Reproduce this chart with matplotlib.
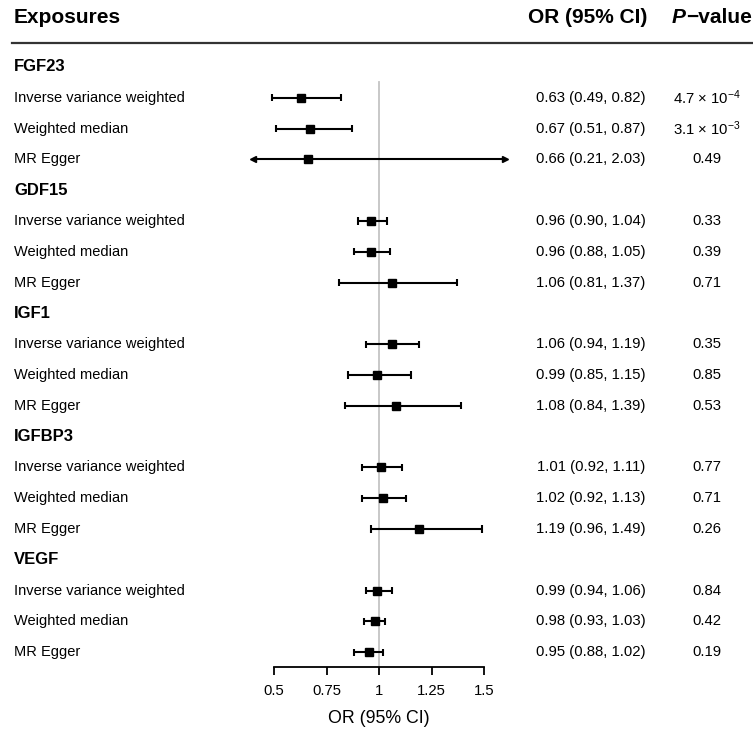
import numpy as np
import matplotlib
matplotlib.use("Agg")
import matplotlib.pyplot as plt
from matplotlib.transforms import blended_transform_factory
from matplotlib.lines import Line2D

plt.rcParams['font.family'] = ['Liberation Sans', 'DejaVu Sans']
plt.rcParams['mathtext.fontset'] = 'custom'
plt.rcParams['mathtext.rm'] = 'Liberation Sans'
plt.rcParams['mathtext.it'] = 'Liberation Sans:italic'
plt.rcParams['mathtext.bf'] = 'Liberation Sans:bold'

# ---------------- data ----------------
groups = ["FGF23", "GDF15", "IGF1", "IGFBP3", "VEGF"]
methods = ["Inverse variance weighted", "Weighted median", "MR Egger"]
or_vals = [[0.63, 0.67, 0.66],
           [0.96, 0.96, 1.06],
           [1.06, 0.99, 1.08],
           [1.01, 1.02, 1.19],
           [0.99, 0.98, 0.95]]
ci_low = [[0.49, 0.51, 0.21],
          [0.90, 0.88, 0.81],
          [0.94, 0.85, 0.84],
          [0.92, 0.92, 0.96],
          [0.94, 0.93, 0.88]]
ci_high = [[0.82, 0.87, 2.03],
           [1.04, 1.05, 1.37],
           [1.19, 1.15, 1.39],
           [1.11, 1.13, 1.49],
           [1.06, 1.03, 1.02]]
p_labels = [["4.7 × 10$^{-4}$", "3.1 × 10$^{-3}$", "0.49"],
            ["0.33", "0.39", "0.71"],
            ["0.35", "0.85", "0.53"],
            ["0.77", "0.71", "0.26"],
            ["0.84", "0.42", "0.19"]]
xticks = [0.5, 0.75, 1, 1.25, 1.5]
xtick_labels = ["0.5", "0.75", "1", "1.25", "1.5"]
clip_lo, clip_hi = 0.4, 1.6

# ---------------- layout ----------------
W, H = 753, 734
fig = plt.figure(figsize=(W / 100, H / 100), dpi=100)
ax = fig.add_axes([0, 0, 1, 1])
ax.patch.set_alpha(0)

px_per_unit = 210.0
x_at_half = 274.0
ax.set_xlim(0.5 - x_at_half / px_per_unit, 0.5 + (W - x_at_half) / px_per_unit)
row_pitch = 30.8
row0_px = 67.0
ax.set_ylim((H - row0_px) / row_pitch, -row0_px / row_pitch)

def prow(px):
    return (px - row0_px) / row_pitch

axis_y = prow(667)

tr = blended_transform_factory(fig.transFigure, ax.transData)
def fx(px):
    return px / W

txt_col = 'black'
row = 0
for g, grp in enumerate(groups):
    ax.text(fx(14), row, grp, transform=tr, ha='left', va='center',
            fontsize=12, fontweight='bold', color=txt_col)
    row += 1
    for m, meth in enumerate(methods):
        ax.text(fx(14), row, meth, transform=tr, ha='left', va='center',
                fontsize=10.5, color=txt_col)
        o, lo, hi = or_vals[g][m], ci_low[g][m], ci_high[g][m]
        ax.text(fx(591), row, f"{o:.2f} ({lo:.2f}, {hi:.2f})", transform=tr,
                ha='center', va='center', fontsize=10.7, color=txt_col)
        ax.text(fx(707), row, p_labels[g][m], transform=tr,
                ha='center', va='center', fontsize=10.7, color=txt_col)
        l = max(lo, clip_lo)
        h = min(hi, clip_hi)
        ax.plot([l, h], [row, row], color='black', lw=1.5, zorder=3,
                solid_capstyle='butt')
        for end, clipped, mk in ((l, lo < clip_lo, '<'), (h, hi > clip_hi, '>')):
            if clipped:
                ax.plot([end], [row], marker=mk, color='black', ms=5, zorder=4)
            else:
                ax.plot([end, end], [row - 0.12, row + 0.12], color='black',
                        lw=1.5, zorder=3, solid_capstyle='butt')
        ax.plot([o], [row], marker='s', color='black', ms=6, zorder=5)
        row += 1

# reference line
ax.plot([1, 1], [prow(82), axis_y], color='#c4c4c4', lw=1.3, zorder=1)

# headers
hy = prow(18)
ax.text(fx(14), hy, "Exposures", transform=tr, ha='left', va='center',
        fontsize=15, fontweight='bold', color=txt_col)
ax.text(fx(588), hy, "OR (95% CI)", transform=tr, ha='center', va='center',
        fontsize=15, fontweight='bold', color=txt_col)
pt = ax.text(fx(672), hy, "P", transform=tr, ha='left', va='center',
             fontsize=15, fontweight='bold', fontstyle='italic', color=txt_col)
ax.annotate("\u2212value", xy=(1, 0.5), xycoords=pt, ha='left', va='center',
            fontsize=15, fontweight='bold', color=txt_col)
fig.add_artist(Line2D([fx(12), 1], [1 - 43 / H, 1 - 43 / H], color='#333333', lw=1.6))

# x axis
for s in ['top', 'right', 'left']:
    ax.spines[s].set_visible(False)
ax.spines['bottom'].set_position(('data', axis_y))
ax.spines['bottom'].set_bounds(xticks[0], xticks[-1])
ax.spines['bottom'].set_linewidth(1.3)
ax.set_xticks(xticks)
ax.set_xticklabels(xtick_labels, fontsize=10.7)
ax.tick_params(axis='x', direction='out', length=6, width=1.3, pad=6, color='black')
ax.set_yticks([])
ax.text(1, prow(718), "OR (95% CI)", ha='center', va='center', fontsize=12.8,
        color=txt_col)

fig.savefig("out.png", dpi=100)
